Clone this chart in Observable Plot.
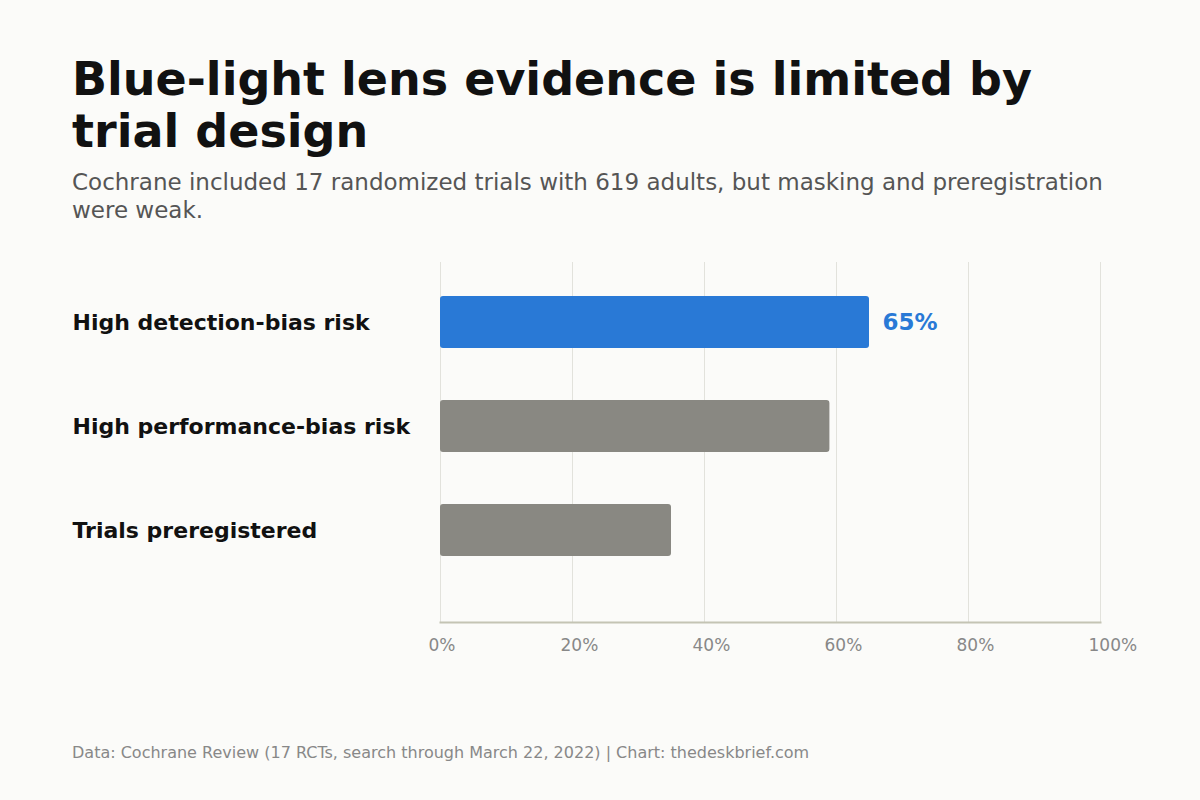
<!DOCTYPE html>
<html>
<head>
<meta charset="utf-8">
<script src="https://cdn.jsdelivr.net/npm/d3@7"></script>
<script src="https://cdn.jsdelivr.net/npm/@observablehq/plot@0.6"></script>
<style>
  html, body { margin: 0; padding: 0; background: #fbfbf9; }
  body { width: 1200px; height: 800px; position: relative; overflow: hidden;
         font-family: "DejaVu Sans", sans-serif; }
  #title { position: absolute; left: 72px; top: 52.8px; width: 1056px; margin: 0;
           font-size: 46px; line-height: 52.6px; font-weight: bold; color: #111; }
  #subtitle { position: absolute; left: 72px; top: 168px; width: 1056px; margin: 0;
              font-size: 23px; line-height: 28px; color: #555; }
  #chart { position: absolute; left: 0; top: 240px; }
  #caption { position: absolute; left: 72px; top: 744.4px; margin: 0;
             font-size: 16px; line-height: 18px; color: #888; }
</style>
</head>
<body>
<h1 id="title">Blue-light lens evidence is limited by trial design</h1>
<p id="subtitle">Cochrane included 17 randomized trials with 619 adults, but masking and preregistration were weak.</p>
<div id="chart"></div>
<p id="caption">Data: Cochrane Review (17 RCTs, search through March 22, 2022) | Chart: thedeskbrief.com</p>
<script>
// Share of the 17 trials with each characteristic (percent)
const measures = ["High detection-bias risk", "High performance-bias risk", "Trials preregistered"];
const shares = [65, 59, 35];
const highlighted = [true, false, false];
const xTicks = [0, 20, 40, 60, 80, 100];

const rows = measures.map((measure, i) => ({measure, share: shares[i], highlight: highlighted[i]}));

const BLUE = "#2979d6";
const GREY = "#898882";

const chart = Plot.plot({
  width: 1200,
  height: 460,
  marginTop: 22,
  marginBottom: 78,
  marginLeft: 440,
  marginRight: 100,
  style: {background: "transparent", fontFamily: "DejaVu Sans, sans-serif"},
  x: {domain: [0, 100], ticks: xTicks},
  y: {domain: measures, range: [30, 342], paddingInner: 0.5, paddingOuter: 0.25, align: 0.5},
  marks: [
    Plot.gridX(xTicks, {stroke: "#e2e2dc", strokeOpacity: 1, strokeWidth: 1}),
    Plot.barX(rows, {
      y: "measure",
      x: "share",
      fill: d => d.highlight ? BLUE : GREY,
      rx: 3
    }),
    Plot.text(rows.filter(d => d.highlight), {
      y: "measure",
      x: "share",
      text: d => `${d.share}%`,
      textAnchor: "start",
      dx: 13,
      fill: BLUE,
      fontSize: 23,
      fontWeight: "bold"
    }),
    Plot.frame({anchor: "bottom", stroke: "#c4c4b4", strokeWidth: 2}),
    Plot.axisX({
      ticks: xTicks,
      tickFormat: d => `${d}%`,
      tickSize: 0,
      tickPadding: 16.5,
      textAnchor: "start",
      dx: -12,
      fontSize: 17,
      fill: "#888",
      label: null
    }),
    Plot.axisY({
      tickSize: 0,
      tickPadding: 0,
      textAnchor: "start",
      dx: -368,
      fontSize: 22,
      fontWeight: "bold",
      fill: "#111",
      label: null
    })
  ]
});

document.getElementById("chart").append(chart);
</script>
</body>
</html>
